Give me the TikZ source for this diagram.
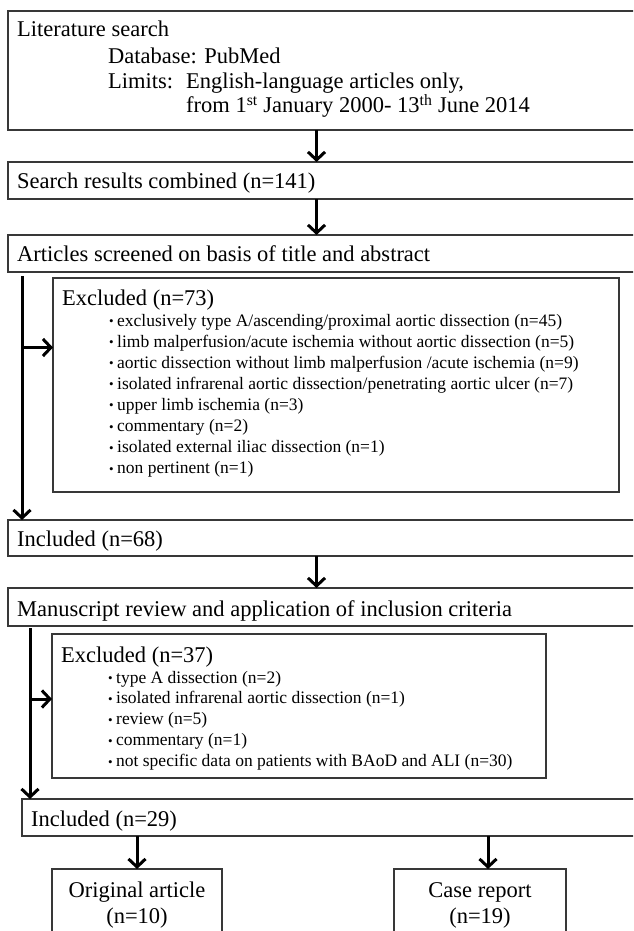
\documentclass[tikz,border=0pt]{standalone}
\usepackage{fontspec}
\setmainfont{Liberation Serif}
\usetikzlibrary{arrows.meta,calc}
\newcommand{\mybul}{\makebox[8pt][l]{\raisebox{0.5pt}{\fontsize{13}{13}\selectfont •}}}
\begin{document}
\begin{tikzpicture}[x=1pt,y=-1pt,
  box/.style={draw=black!78, line width=1.3pt, anchor=north west, inner sep=0pt, outer sep=0pt},
  big/.style={anchor=base west, inner sep=0pt, font=\fontsize{22.5}{27}\selectfont},
  bigc/.style={anchor=base, inner sep=0pt, font=\fontsize{22.5}{27}\selectfont},
  small/.style={anchor=base west, inner sep=0pt, font=\fontsize{17.5}{21}\selectfont},
  flow/.style={line width=3pt, -{Straight Barb[length=8pt,width=17pt,line width=3pt]}}]
\fill[white] (0,0) rectangle (633,931);
\useasboundingbox (0,0) rectangle (633,931);
\clip (0,0) rectangle (633,931);

% boxes
\node[box, minimum width=640pt, minimum height=119pt] (lit) at (8,11) {};
\node[box, minimum width=640pt, minimum height=37pt] (comb) at (8,162) {};
\node[box, minimum width=640pt, minimum height=37pt] (screen) at (8,235) {};
\node[box, minimum width=566pt, minimum height=214pt] (exc1) at (53,278) {};
\node[box, minimum width=640pt, minimum height=36pt] (inc68) at (8,520) {};
\node[box, minimum width=640pt, minimum height=38pt] (manu) at (8,588) {};
\node[box, minimum width=494pt, minimum height=144pt] (exc2) at (52,634) {};
\node[box, minimum width=630pt, minimum height=37pt] (inc29) at (22,799) {};
\node[box, minimum width=170pt, minimum height=90pt] (orig) at (52,869) {};
\node[box, minimum width=172pt, minimum height=90pt] (case) at (394,869) {};

% texts
\node[big] (t1) at (17,37) {Literature search};
\node[big] (t2) at (108,64) {Database: PubMed};
\node[big] (t3) at (108,89) {Limits:};
\node[big] (t4) at (186,89) {English-language articles only,};
\node[big] (t5) at (186,113) {from 1\textsuperscript{st} January 2000- 13\textsuperscript{th} June 2014};
\node[big] (tc) at (17,188) {Search results combined (n=141)};
\node[big] (ts) at (17,261) {Articles screened on basis of title and abstract};
\node[big] (te1) at (62,305) {Excluded (n=73)};
\node[small] (e1a) at (109,326) {\mybul exclusively type A/ascending/proximal aortic dissection (n=45)};
\node[small] (e1b) at (109,347.1) {\mybul limb malperfusion/acute ischemia without aortic dissection (n=5)};
\node[small] (e1c) at (109,368.2) {\mybul aortic dissection without limb malperfusion /acute ischemia (n=9)};
\node[small] (e1d) at (109,389.3) {\mybul isolated infrarenal aortic dissection/penetrating aortic ulcer (n=7)};
\node[small] (e1e) at (109,410.4) {\mybul upper limb ischemia (n=3)};
\node[small] (e1f) at (109,431.5) {\mybul commentary (n=2)};
\node[small] (e1g) at (109,452.6) {\mybul isolated external iliac dissection (n=1)};
\node[small] (e1h) at (109,473.7) {\mybul non pertinent (n=1)};
\node[big] (ti68) at (17,546) {Included (n=68)};
\node[big] (tm) at (17,616) {Manuscript review and application of inclusion criteria};
\node[big] (te2) at (61,662) {Excluded (n=37)};
\node[small] (e2a) at (108,683) {\mybul type A dissection (n=2)};
\node[small] (e2b) at (108,703.9) {\mybul isolated infrarenal aortic dissection (n=1)};
\node[small] (e2c) at (108,724.8) {\mybul review (n=5)};
\node[small] (e2d) at (108,745.7) {\mybul commentary (n=1)};
\node[small] (e2e) at (108,766.6) {\mybul not specific data on patients with BAoD and ALI (n=30)};
\node[big] (ti29) at (31,826) {Included (n=29)};
\node[bigc] (to1) at (137,897) {Original article};
\node[bigc] (to2) at (137,923) {(n=10)};
\node[bigc] (tr1) at (480,897) {Case report};
\node[bigc] (tr2) at (480,923) {(n=19)};

% connectors
\draw[flow] (316.5,0 |- lit.south) -- (316.5,0 |- comb.north);
\draw[flow] (316.5,0 |- comb.south) -- (316.5,0 |- screen.north);
\coordinate (v1) at ($(22,0 |- screen.south)+(0,4)$);
\draw[flow] (v1) -- (22,0 |- inc68.north);
\coordinate (b1) at (22,347.5);
\draw[flow] (b1) -- (exc1.west |- b1);
\draw[flow] (316.5,0 |- inc68.south) -- (316.5,0 |- manu.north);
\coordinate (v2) at ($(30,0 |- manu.south)+(0,2)$);
\draw[flow] (v2) -- (30,0 |- inc29.north);
\coordinate (b2) at (30,699);
\draw[flow] (b2) -- (exc2.west |- b2);
\draw[flow] (137,0 |- inc29.south) -- (orig.north);
\draw[flow] (488,0 |- inc29.south) -- (488,0 |- case.north);
\end{tikzpicture}
\end{document}
